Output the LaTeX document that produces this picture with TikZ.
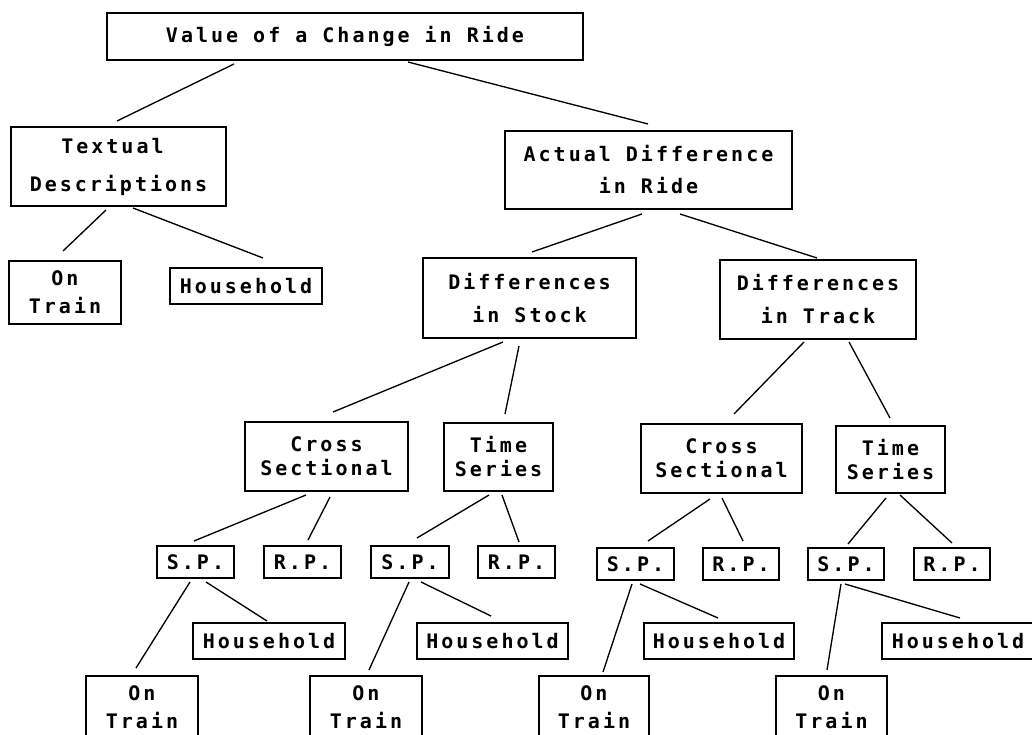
\documentclass[tikz,border=0pt]{standalone}
\usepackage{fontspec}
\newfontfamily\diagfont[LetterSpace=15]{DejaVu Sans Mono Bold}
\usetikzlibrary{calc}
\newcommand\lsk[1]{\diagfont\fontsize{15pt}{#1}\selectfont}
\newcommand\conn[4]{\draw[conn] ($(#1.south)+(#2)$) -- ($(#3.north)+(#4)$);}
\begin{document}
\begin{tikzpicture}[x=0.75pt,y=-0.75pt,
  box/.style={draw, line width=1.5pt, inner sep=0pt, align=center, font={\lsk{18pt}}},
  wh/.style 2 args={minimum width=#1*0.75pt, minimum height=#2*0.75pt},
  conn/.style={line width=1pt}]
\useasboundingbox (0,0) rectangle (1032,735);
\clip (0,0) rectangle (1032,735);
\fill[white] (0,0) rectangle (1032,735);
% level 0
\node[box, wh={476}{47}] (top) at (345,36.5) {Value of a Change in Ride};
% level 1
\node[box, wh={215}{79}, font={\lsk{28.5pt}}] (tex) at (118.5,166.5) {Textual\phantom{x}\\Descriptions};
\node[box, wh={287}{78}, font={\lsk{24pt}}] (act) at (648.5,170) {Actual Difference\\in Ride};
% level 2
\node[box, wh={112}{63}, font={\lsk{21pt}}] (ot0) at (65,292.5) {On\\Train};
\node[box, wh={152}{36}] (hh0) at (246,286) {Household};
\node[box, wh={213}{80}, font={\lsk{24.75pt}}] (stk) at (529.5,298) {Differences\\in Stock};
\node[box, wh={196}{79}, font={\lsk{24.75pt}}] (trk) at (818,299.5) {Differences\\in Track};
% level 3
\node[box, wh={163}{69}] (cs1) at (326.5,456.5) {Cross\\Sectional};
\node[box, wh={109}{68}] (ts1) at (498.5,457) {Time\\Series};
\node[box, wh={161}{69}] (cs2) at (721.5,458.5) {Cross\\Sectional};
\node[box, wh={109}{67}] (ts2) at (890.5,459.5) {Time\\Series};
% level 4
\node[box, wh={77}{32}] (sp1) at (195.5,562) {S.P.};
\node[box, wh={77}{32}] (rp1) at (302.5,562) {R.P.};
\node[box, wh={78}{32}] (sp2) at (410,562) {S.P.};
\node[box, wh={77}{32}] (rp2) at (516.5,562) {R.P.};
\node[box, wh={77}{32}] (sp3) at (635.5,564) {S.P.};
\node[box, wh={76}{32}] (rp3) at (741,564) {R.P.};
\node[box, wh={76}{32}] (sp4) at (846,564) {S.P.};
\node[box, wh={76}{32}] (rp4) at (952,564) {R.P.};
% level 5
\node[box, wh={152}{36}] (hh1) at (269,641) {Household};
\node[box, wh={151}{36}] (hh2) at (492.5,641) {Household};
\node[box, wh={150}{36}] (hh3) at (719,641) {Household};
\node[box, wh={152}{36}] (hh4) at (958,641) {Household};
% level 6
\node[box, wh={112}{63}, font={\lsk{21pt}}] (ot1) at (142,707.5) {On\\Train};
\node[box, wh={112}{63}, font={\lsk{21pt}}] (ot2) at (366,707.5) {On\\Train};
\node[box, wh={110}{63}, font={\lsk{21pt}}] (ot3) at (594,707.5) {On\\Train};
\node[box, wh={111}{63}, font={\lsk{21pt}}] (ot4) at (831.5,707.5) {On\\Train};
% connectors
\conn{top}{-111,3}{tex}{-1.5,-5}
\conn{top}{63,1}{act}{-0.5,-6}
\conn{tex}{-12.5,3}{ot0}{-2,-9}
\conn{tex}{14.5,1}{hh0}{17,-9}
\conn{act}{-6.5,4}{stk}{2.5,-5}
\conn{act}{31.5,4}{trk}{-1,-1}
\conn{stk}{-26.5,3}{cs1}{6.5,-9}
\conn{stk}{-10.5,7}{ts1}{6.5,-8}
\conn{trk}{-14,2}{cs2}{12.5,-9}
\conn{trk}{31,2}{ts2}{-0.5,-7}
\conn{cs1}{-20.5,3}{sp1}{-1.5,-4}
\conn{cs1}{3.5,5}{rp1}{5.5,-5}
\conn{ts1}{-9.5,3}{sp2}{7,-7}
\conn{ts1}{3.5,3}{rp2}{2.5,-3}
\conn{cs2}{-11.5,5}{sp3}{12.5,-6}
\conn{cs2}{0.5,4}{rp3}{2,-6}
\conn{ts2}{-4.5,4}{sp4}{2,-3}
\conn{ts2}{9.5,1}{rp4}{0,-4}
\conn{sp1}{-5.5,3}{ot1}{-6,-7}
\conn{sp1}{10.5,3}{hh1}{-2,-1}
\conn{sp2}{-1,3}{ot2}{3,-5}
\conn{sp2}{11,3}{hh2}{-1.5,-6}
\conn{sp3}{-3.5,3}{ot3}{9,-3}
\conn{sp3}{4.5,3}{hh3}{-1,-4}
\conn{sp4}{-5,3}{ot4}{-4.5,-5}
\conn{sp4}{-1,3}{hh4}{2,-4}
\end{tikzpicture}
\end{document}
